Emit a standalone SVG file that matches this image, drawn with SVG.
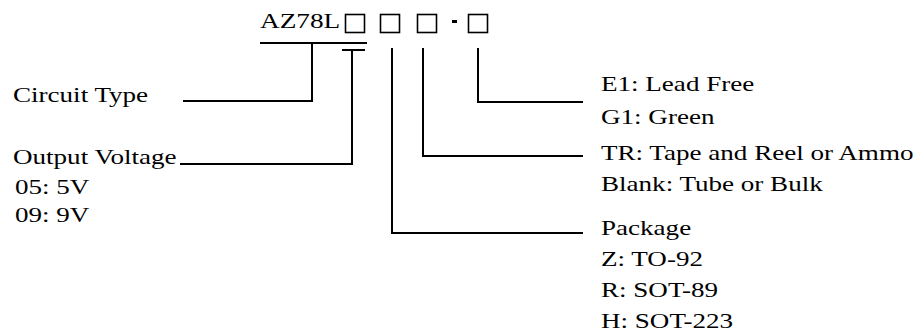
<svg xmlns="http://www.w3.org/2000/svg" width="914" height="332" viewBox="0 0 914 332">
<style>
.t{font-family:'Liberation Serif','Times New Roman',serif;font-size:22px;fill:#000}
.ln{stroke:#000;stroke-width:2;fill:none}
.bx{stroke:#000;stroke-width:1.6;fill:#fff}
</style>
<rect width="914" height="332" fill="#fff"/>
<g id="part-code">
<text class="t" transform="translate(260,28) scale(1.24,1)">AZ78L</text>
<rect class="bx" x="345.5" y="14.5" width="19" height="18"/>
<rect class="bx" x="380.5" y="14.5" width="19" height="18"/>
<rect class="bx" x="417.5" y="14.5" width="19" height="18"/>
<rect x="452" y="20" width="5" height="3" fill="#000"/>
<rect class="bx" x="468.5" y="14.5" width="19" height="18"/>
</g>
<g id="connectors">
<path class="ln" d="M260 43H367M312 43V101H183"/>
<path class="ln" d="M342 50H365M352 50V164H180"/>
<path class="ln" d="M392 48V233H583"/>
<path class="ln" d="M423 48V156H583"/>
<path class="ln" d="M478 48V102H583"/>
</g>
<g id="circuit-type">
<text class="t" transform="translate(13,102) scale(1.23,1)">Circuit Type</text>
</g>
<g id="output-voltage">
<text class="t" transform="translate(13,164) scale(1.23,1)">Output Voltage</text>
<text class="t" transform="translate(15,194) scale(1.23,1)">05: 5V</text>
<text class="t" transform="translate(15,222) scale(1.23,1)">09: 9V</text>
</g>
<g id="lead-free">
<text class="t" transform="translate(601,91) scale(1.23,1)">E1: Lead Free</text>
<text class="t" transform="translate(601,124) scale(1.23,1)">G1: Green</text>
</g>
<g id="packing">
<text class="t" transform="translate(601,160) scale(1.23,1)">TR: Tape and Reel or Ammo</text>
<text class="t" transform="translate(601,191) scale(1.23,1)">Blank: Tube or Bulk</text>
</g>
<g id="package">
<text class="t" transform="translate(601,235) scale(1.23,1)">Package</text>
<text class="t" transform="translate(601,266) scale(1.23,1)">Z: TO-92</text>
<text class="t" transform="translate(601,297) scale(1.23,1)">R: SOT-89</text>
<text class="t" transform="translate(601,328) scale(1.23,1)">H: SOT-223</text>
</g>
</svg>
